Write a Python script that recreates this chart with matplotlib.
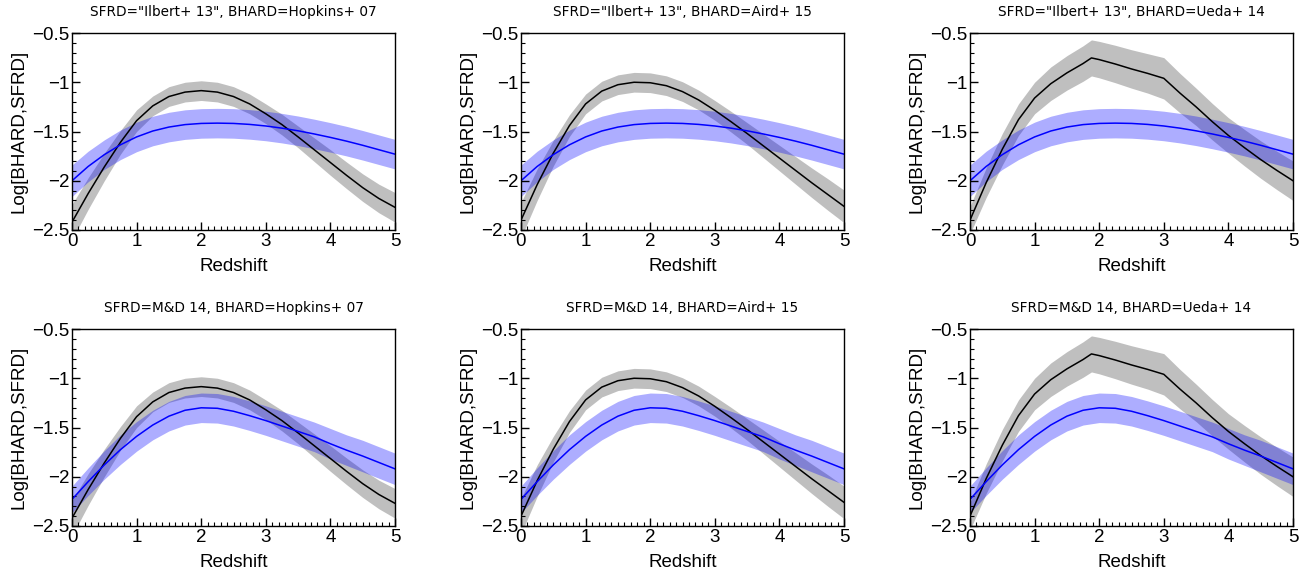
import matplotlib
matplotlib.use("Agg")
import matplotlib.pyplot as plt
from matplotlib.ticker import MultipleLocator, FuncFormatter

# ==============================
# DATA
# ==============================
z = [0, 0.25, 0.5, 0.75, 1, 1.25, 1.5, 1.75, 2, 2.25, 2.5,
     2.75, 3, 3.25, 3.5, 3.75, 4, 4.25, 4.5, 4.75, 5]

# SFRD Ilbert+13 (blue, top row)
sfrd_ilbert = [-2.0, -1.855, -1.735, -1.635, -1.555, -1.495, -1.455, -1.43, -1.418, -1.415, -1.418,
               -1.428, -1.444, -1.466, -1.493, -1.525, -1.56, -1.598, -1.64, -1.685, -1.73]
sfrd_ilbert_err = [0.16, 0.155, 0.15, 0.15, 0.15, 0.15, 0.15, 0.15, 0.15, 0.15, 0.15,
                   0.15, 0.15, 0.15, 0.15, 0.15, 0.15, 0.15, 0.15, 0.15, 0.15]

# SFRD Madau & Dickinson 14 (blue, bottom row)
sfrd_md = [-2.23, -2.05, -1.88, -1.725, -1.59, -1.475, -1.385, -1.325, -1.30, -1.305, -1.335,
           -1.38, -1.43, -1.485, -1.54, -1.595, -1.665, -1.73, -1.79, -1.855, -1.92]
sfrd_md_err = [0.135, 0.14, 0.145, 0.15, 0.15, 0.15, 0.15, 0.15, 0.15, 0.15, 0.15,
               0.15, 0.15, 0.15, 0.15, 0.15, 0.155, 0.155, 0.16, 0.16, 0.16]

# BHARD Hopkins+07
bhard_hopkins = [-2.42, -2.13, -1.86, -1.61, -1.39, -1.24, -1.145, -1.10, -1.085, -1.10, -1.145,
                 -1.22, -1.32, -1.43, -1.555, -1.685, -1.815, -1.945, -2.07, -2.18, -2.27]
bhard_hopkins_err = [0.18, 0.16, 0.14, 0.12, 0.11, 0.1, 0.1, 0.1, 0.1, 0.1, 0.1,
                     0.1, 0.1, 0.105, 0.11, 0.12, 0.13, 0.135, 0.14, 0.145, 0.15]

# BHARD Aird+15
bhard_aird = [-2.40, -2.04, -1.72, -1.44, -1.22, -1.09, -1.025, -1.0, -1.005, -1.035, -1.095,
              -1.18, -1.285, -1.40, -1.52, -1.645, -1.77, -1.895, -2.02, -2.14, -2.26]
bhard_aird_err = [0.18, 0.16, 0.13, 0.11, 0.1, 0.1, 0.1, 0.1, 0.1, 0.1, 0.1,
                  0.1, 0.1, 0.105, 0.11, 0.12, 0.13, 0.14, 0.15, 0.16, 0.165]

# BHARD Ueda+14 (kinks at z~1.88 and z=3)
z_ueda = [0, 0.25, 0.5, 0.75, 1, 1.25, 1.5, 1.75, 1.88, 2, 2.25, 2.5,
          2.75, 3, 3.25, 3.5, 3.75, 4, 4.25, 4.5, 4.75, 5]
bhard_ueda = [-2.40, -2.02, -1.68, -1.38, -1.16, -1.015, -0.905, -0.81, -0.753, -0.77, -0.815, -0.865,
              -0.91, -0.96, -1.11, -1.25, -1.40, -1.54, -1.665, -1.785, -1.895, -2.0]
bhard_ueda_err = [0.14, 0.15, 0.16, 0.16, 0.16, 0.17, 0.175, 0.18, 0.183, 0.185, 0.19, 0.195,
                  0.2, 0.21, 0.2, 0.19, 0.185, 0.18, 0.185, 0.19, 0.195, 0.2]

titles = [
    'SFRD="Ilbert+ 13", BHARD=Hopkins+ 07',
    'SFRD="Ilbert+ 13", BHARD=Aird+ 15',
    'SFRD="Ilbert+ 13", BHARD=Ueda+ 14',
    'SFRD=M&D 14, BHARD=Hopkins+ 07',
    'SFRD=M&D 14, BHARD=Aird+ 15',
    'SFRD=M&D 14, BHARD=Ueda+ 14',
]

bhard_sets = [
    (z, bhard_hopkins, bhard_hopkins_err),
    (z, bhard_aird, bhard_aird_err),
    (z_ueda, bhard_ueda, bhard_ueda_err),
]
sfrd_sets = [
    (z, sfrd_ilbert, sfrd_ilbert_err),
    (z, sfrd_md, sfrd_md_err),
]

# ==============================
# LAYOUT
# ==============================
W, H = 1315, 583
AX_LEFT = [72, 521, 970]
AX_TOP = [33, 329]
AX_W, AX_H = 323, 197
LABEL_FONT = "Liberation Sans"


def band(ax, xs, ys, err, line_color, fill_color, alpha):
    lo = [y - e for y, e in zip(ys, err)]
    hi = [y + e for y, e in zip(ys, err)]
    ax.fill_between(xs, lo, hi, color=fill_color, alpha=alpha, lw=0)
    ax.plot(xs, ys, color=line_color, lw=1.1)


def style_axes(ax):
    ax.set_xlim(0, 5)
    ax.set_ylim(-2.5, -0.5)
    ax.xaxis.set_major_locator(MultipleLocator(1))
    ax.xaxis.set_minor_locator(MultipleLocator(0.1))
    ax.yaxis.set_major_locator(MultipleLocator(0.5))
    ax.yaxis.set_minor_locator(MultipleLocator(0.1))
    ax.yaxis.set_major_formatter(FuncFormatter(lambda v, p: ("%g" % v).replace("-", "\u2212")))
    ax.tick_params(which="both", direction="in", top=False, right=False)
    ax.tick_params(which="major", length=6, width=1, pad=2)
    ax.tick_params(which="minor", length=3, width=0.8)
    for lab in ax.get_xticklabels() + ax.get_yticklabels():
        lab.set_fontfamily(LABEL_FONT)
        lab.set_fontsize(13.5)
    for sp in ax.spines.values():
        sp.set_linewidth(1.0)
    ax.set_xlabel("Redshift", fontsize=13.5, family=LABEL_FONT, labelpad=6)
    ax.set_ylabel("Log[BHARD,SFRD]", fontsize=13.5, family=LABEL_FONT, labelpad=3)


def main():
    fig = plt.figure(figsize=(W / 100, H / 100), dpi=100)
    for row in range(2):
        for col in range(3):
            rect = [AX_LEFT[col] / W, 1 - (AX_TOP[row] + AX_H) / H, AX_W / W, AX_H / H]
            ax = fig.add_axes(rect)
            bx, by, be = bhard_sets[col]
            sx, sy, se = sfrd_sets[row]
            band(ax, bx, by, be, "black", "0.5", 0.5)
            band(ax, sx, sy, se, "blue", "blue", 0.32)
            style_axes(ax)
            ax.set_title(titles[row * 3 + col], fontsize=9.8, family="DejaVu Sans", pad=12)
    fig.savefig("out.png", dpi=100)


if __name__ == "__main__":
    main()
